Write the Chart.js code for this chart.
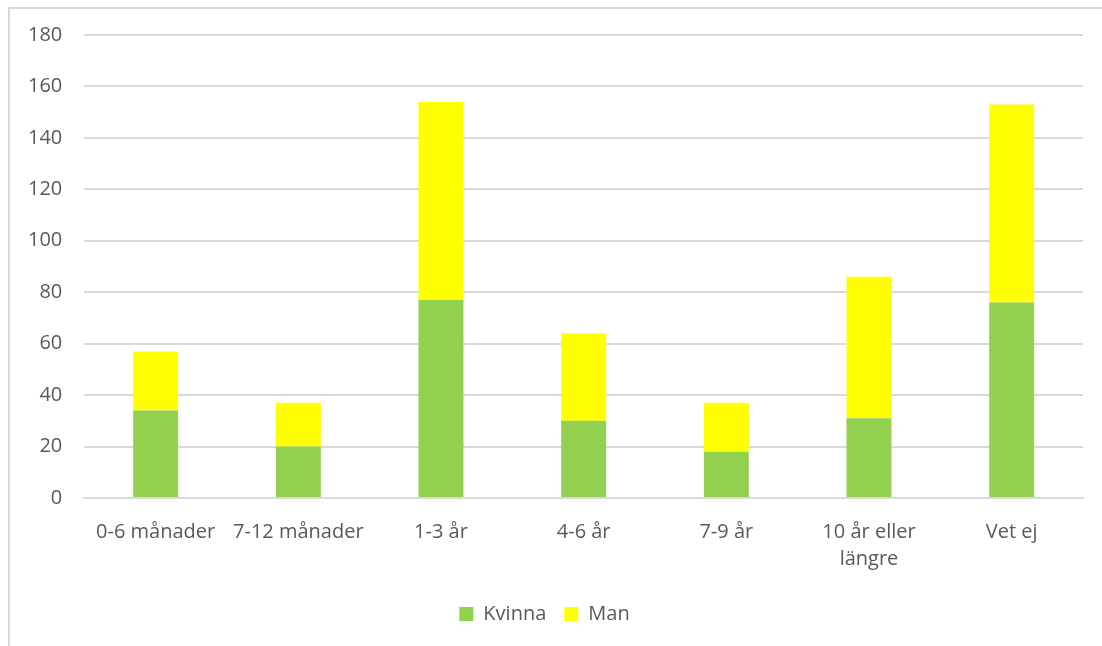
<!DOCTYPE html>
<html>
<head>
<meta charset="utf-8">
<script src="https://cdn.jsdelivr.net/npm/chart.js@4/dist/chart.umd.min.js"></script>
<style>
	html, body { margin: 0; padding: 0; background: #fff; }
	#wrap { position: relative; width: 1102px; height: 646px; overflow: hidden; }
	#frame { position: absolute; left: 8px; top: 7px; width: 1100px; height: 650px; border-left: 2px solid #d9d9d9; border-top: 2px solid #d9d9d9; box-sizing: border-box; }
	canvas { position: absolute; left: 0; top: 0; }
</style>
</head>
<body>
<div id="wrap">
	<div id="frame"></div>
	<canvas id="chart" width="1102" height="646"></canvas>
</div>
<script>
const categories = ['0-6 månader', '7-12 månader', '1-3 år', '4-6 år', '7-9 år', ['10 år eller', 'längre'], 'Vet ej'];
const kvinna = [34, 20, 77, 30, 18, 31, 76];
const man = [23, 17, 77, 34, 19, 55, 77];
const yTicks = [0, 20, 40, 60, 80, 100, 120, 140, 160, 180];

const textColor = '#595959';
const gridColor = '#d9d9d9';
const fontFamily = '"Open Sans", "Noto Sans", sans-serif';

Chart.defaults.font.family = fontFamily;
Chart.defaults.font.size = 20;
Chart.defaults.color = textColor;

const ctx = document.getElementById('chart').getContext('2d');
new Chart(ctx, {
	type: 'bar',
	data: {
		labels: categories,
		datasets: [
			{
				label: 'Kvinna',
				data: kvinna,
				backgroundColor: '#92d050',
				barPercentage: 0.315,
				categoryPercentage: 1,
			},
			{
				label: 'Man',
				data: man,
				backgroundColor: '#ffff00',
				barPercentage: 0.315,
				categoryPercentage: 1,
			},
		],
	},
	options: {
		responsive: false,
		animation: false,
		layout: {
			padding: { left: 6, right: 19, top: 35, bottom: 12 },
		},
		scales: {
			x: {
				stacked: true,
				grid: { display: false },
				border: { color: gridColor, width: 2 },
				ticks: { maxRotation: 0, autoSkip: false, padding: 13, font: { size: 20, lineHeight: 1.35 } },
			},
			y: {
				stacked: true,
				min: 0,
				max: 180,
				afterBuildTicks: (axis) => {
					axis.ticks = yTicks.map((v) => ({ value: v }));
				},
				grid: { color: gridColor, lineWidth: 2, drawTicks: false },
				border: { display: false },
				ticks: { padding: 22, font: { size: 20 } },
			},
		},
		plugins: {
			legend: {
				display: true,
				position: 'bottom',
				labels: { boxWidth: 14, boxHeight: 14, padding: 18, font: { size: 20 } },
			},
			tooltip: { enabled: false },
		},
	},
});
</script>
</body>
</html>
